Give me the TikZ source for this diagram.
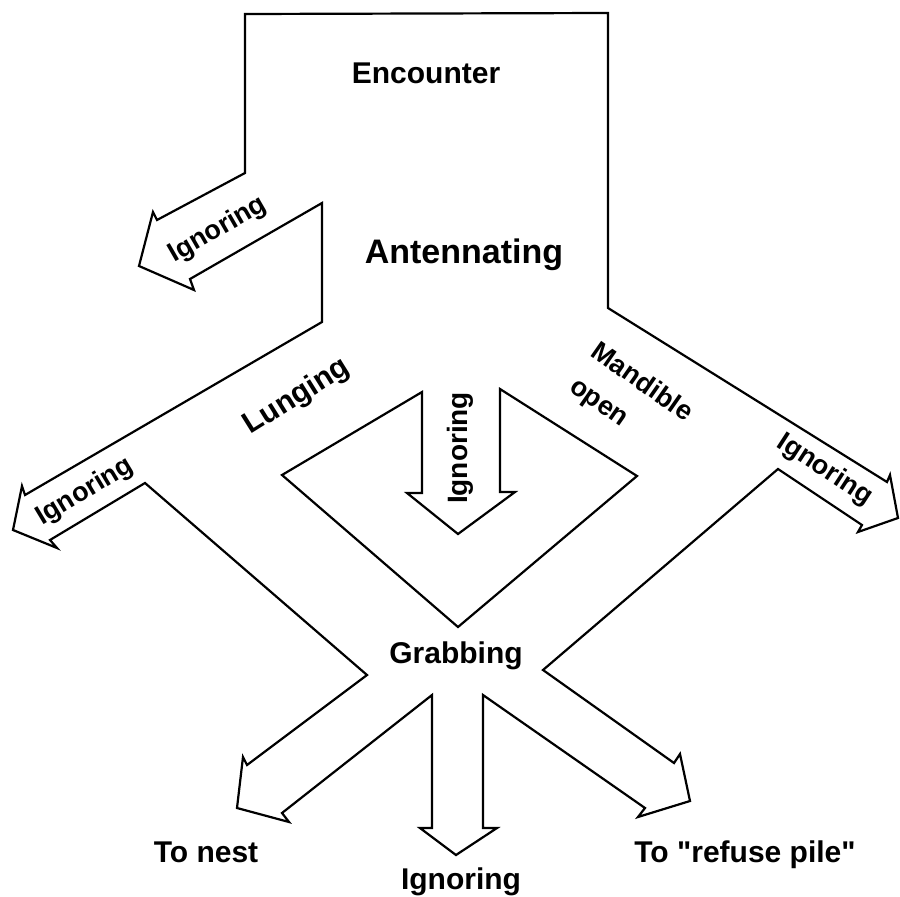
\documentclass[tikz,border=0pt]{standalone}
\usepackage{fontspec}
\setmainfont{Liberation Sans}[Ligatures=TeXOff]
\usepackage{tikz}
\usetikzlibrary{calc}
\tikzset{
	stage/.style={font=\bfseries\fontsize{30}{32}\selectfont, anchor=base, inner sep=0pt},
	choice/.style={font=\bfseries\fontsize{27}{29}\selectfont, inner sep=0pt},
	outline/.style={line width=2.2pt, line join=miter},
}

\begin{document}
\begin{tikzpicture}[x=1pt,y=-1pt]
	\useasboundingbox (0,0) rectangle (900,897);
	% outer band with all the side arrows
	\draw[outline] (245,14) -- (245,173) -- (157,220) -- (153,212) -- (139,266) -- (194,290) -- (190,279)
		-- (322,203) -- (322,322) -- (25,495) -- (22,486) -- (13,530) -- (57,548) -- (50,540)
		-- (145,483) -- (367,675) -- (247,765) -- (243,757) -- (237,808) -- (289,822) -- (282,813)
		-- (432,695) -- (432,828) -- (420,828) -- (456,855) -- (497,828) -- (483,828)
		-- (483,695) -- (645,808) -- (638,817) -- (690,801) -- (680,754) -- (674,763)
		-- (543,670) -- (778,469) -- (862,525) -- (858,532) -- (898,518) -- (890,475) -- (887,482)
		-- (608,308) -- (608,13) -- cycle;
	% inner diamond and the middle arrow
	\draw[outline] (422,392) -- (282,475) -- (458,627) -- (637,476) -- (500,389)
		-- (500,492) -- (515,492) -- (458,534) -- (407,493) -- (422,493) -- cycle;
	
	\node[stage] (enc) at (426,83) {Encounter};
	\node[stage, font=\bfseries\fontsize{34}{36}\selectfont] (ant) at (464,263) {Antennating};
	\node[stage] (grab) at (456,663) {Grabbing};
	\node[stage] (nest) at (206,862) {To nest};
	\node[stage] (ign) at (461,889) {Ignoring};
	\node[stage] (pile) at (745,862) {To "refuse pile"};
	
	\node[choice, rotate=30] (ign1) at (218,230) {Ignoring};
	\node[choice, rotate=31] (ign2) at (85,492) {Ignoring};
	\node[choice, rotate=90, font=\bfseries\fontsize{28}{30}\selectfont] (ign3) at (460,448) {Ignoring};
	\node[choice, rotate=-33] (ign4) at (825,470) {Ignoring};
	\node[choice, rotate=32, font=\bfseries\fontsize{30}{32}\selectfont] (lunge) at (297,397) {Lunging};
	\node[choice, rotate=-35] (mand) at (643,381) {Mandible};
	\node[choice, rotate=-35] (open) at (597,405) {open};
\end{tikzpicture}
\end{document}
